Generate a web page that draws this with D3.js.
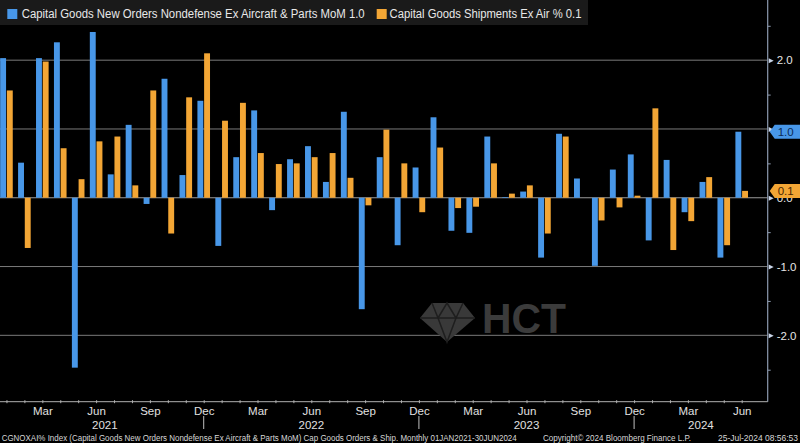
<!DOCTYPE html>
<html><head><meta charset="utf-8">
<script src="https://cdn.jsdelivr.net/npm/d3@7"></script>
<style>
html,body{margin:0;padding:0;background:#000;}
svg{display:block;font-family:"Liberation Sans","DejaVu Sans",sans-serif;}
</style></head>
<body>
<svg id="chart" width="800" height="443"></svg>
<script>
// ---------- data ----------
const months = [
 "2021-01","2021-02","2021-03","2021-04","2021-05","2021-06","2021-07","2021-08","2021-09","2021-10","2021-11","2021-12",
 "2022-01","2022-02","2022-03","2022-04","2022-05","2022-06","2022-07","2022-08","2022-09","2022-10","2022-11","2022-12",
 "2023-01","2023-02","2023-03","2023-04","2023-05","2023-06","2023-07","2023-08","2023-09","2023-10","2023-11","2023-12",
 "2024-01","2024-02","2024-03","2024-04","2024-05","2024-06"];
const ordersMoM = [
 2.03, 0.51, 2.03, 2.26,-2.47, 2.41, 0.34, 1.06,-0.09, 1.73, 0.33, 1.41,
-0.70, 0.59, 1.27,-0.18, 0.56, 0.75, 0.23, 1.25,-1.62, 0.59,-0.69, 0.44,
 1.17,-0.48,-0.51, 0.89, 0.01, 0.09,-0.87, 0.93, 0.28,-0.99, 0.41, 0.63,
-0.62, 0.55,-0.21, 0.23,-0.87, 0.96];
const shipmentsMoM = [
 1.56,-0.73, 1.98, 0.72, 0.27, 0.82, 0.89, 0.18, 1.56,-0.52, 1.46, 2.10,
 1.12, 1.38, 0.65, 0.49, 0.50, 0.59, 0.65, 0.29,-0.11, 0.99, 0.50,-0.21,
 0.73,-0.15,-0.13, 0.50, 0.06, 0.18,-0.52, 0.89, 0.00,-0.33,-0.14, 0.03,
 1.30,-0.76,-0.34, 0.30,-0.69, 0.10];
const seriesNames = ["Capital Goods New Orders Nondefense Ex Aircraft & Parts MoM",
                     "Capital Goods Shipments Ex Air %"];
const yMajorTicks = [-2, -1, 0, 1, 2];
const yMinorTicks = [-2.5, -1.5, -0.5, 0.5, 1.5, 2.5];
const monthNames = ["Jan","Feb","Mar","Apr","May","Jun","Jul","Aug","Sep","Oct","Nov","Dec"];
const labeledMonths = ["Mar","Jun","Sep","Dec"];
const footerLeft = "CGNOXAI% Index (Capital Goods New Orders Nondefense Ex Aircraft & Parts MoM) Cap Goods Orders & Ship.  Monthly 01JAN2021-30JUN2024";
const footerCopy = "Copyright\u00A9 2024 Bloomberg Finance L.P.";
const footerStamp = "25-Jul-2024 08:56:53";

// ---------- styles ----------
const BLUE = "#4897e8", ORANGE = "#f3a635";
const W = 800, H = 443;
const plot = {left: 0, right: 767.7, top: 0, bottom: 401.7};

const svg = d3.select("#chart");
svg.append("rect").attr("width", W).attr("height", H).attr("fill", "#000");

const x = d3.scaleLinear().domain([-0.36, 42.45]).range([plot.left, plot.right]);
const y = d3.scaleLinear().domain([-2.965, 2.875]).range([plot.bottom, plot.top]);
const sub = d3.scaleBand().domain([0, 1]).range([-6.3, 6.3]).paddingInner(0.12);

const data = months.map((m, i) => ({i, m, vals: [ordersMoM[i], shipmentsMoM[i]]}));

// gridlines
svg.append("g").selectAll("line").data(yMajorTicks).join("line")
  .attr("x1", plot.left).attr("x2", plot.right)
  .attr("y1", d => y(d)).attr("y2", d => y(d))
  .attr("stroke", d => d === 0 ? "#9a9a9a" : "#7a7a7a").attr("stroke-width", 1);

// watermark
const wm = svg.append("g");
wm.append("polygon").attr("points", "420,318 432,303 463,303 475,318 447,342").attr("fill", "#393939");
wm.append("polyline").attr("points", "420,318 475,318").attr("stroke", "#1e1e1e").attr("stroke-width", 1.5).attr("fill", "none");
wm.append("polyline").attr("points", "432,303 438,318 447,342 456,318 463,303").attr("stroke", "#1e1e1e").attr("stroke-width", 1.5).attr("fill", "none");
wm.append("polyline").attr("points", "438,318 447,303 456,318").attr("stroke", "#1e1e1e").attr("stroke-width", 1.5).attr("fill", "none");
wm.append("text").attr("x", 482).attr("y", 333).text("HCT")
  .attr("font-size", 43).attr("font-weight", "bold").attr("fill", "#3b3b3b")
  .attr("textLength", 84).attr("lengthAdjust", "spacingAndGlyphs");

// bars
const colors = [BLUE, ORANGE];
const groups = svg.append("g").selectAll("g").data(data).join("g")
  .attr("transform", d => `translate(${x(d.i)},0)`);
groups.selectAll("rect").data(d => d.vals.map((v, k) => ({v, k}))).join("rect")
  .attr("x", d => sub(d.k))
  .attr("width", sub.bandwidth())
  .attr("y", d => y(Math.max(0, d.v)))
  .attr("height", d => Math.abs(y(d.v) - y(0)))
  .attr("fill", d => colors[d.k]);

// right axis line
svg.append("line").attr("x1", plot.right).attr("x2", plot.right)
  .attr("y1", plot.top).attr("y2", plot.bottom).attr("stroke", "#8d9bb0").attr("stroke-width", 1.2);

// minor ticks
const minorAxis = d3.axisRight(y).tickValues(yMinorTicks).tickSize(3).tickFormat("");
svg.append("g").attr("transform", `translate(${plot.right},0)`).call(minorAxis)
  .call(g => g.select(".domain").remove())
  .call(g => g.selectAll("line").attr("stroke", "#8d9bb0"));

// value tags (last values)
const last = months.length - 1;
const tags = [
  {v: ordersMoM[last], fill: BLUE, text: "#0b2a55"},
  {v: shipmentsMoM[last], fill: ORANGE, text: "#4a2500"}
];

// major labels (labels fully hidden under a value tag are omitted)
const majorAxis = d3.axisRight(y).tickValues(yMajorTicks).tickSize(0).tickPadding(9)
  .tickFormat(d => d3.format(".1f")(d).replace("\u2212", "-"));
const ya = svg.append("g").attr("transform", `translate(${plot.right},0)`).call(majorAxis);
ya.select(".domain").remove();
ya.selectAll("text").attr("fill", "#e6e6e6").attr("font-size", 11.5)
  .filter(d => tags.some(t => Math.abs(y(t.v) - y(d)) < 5)).remove();
ya.selectAll(".tick").append("path").attr("d", "M1,-2.5L6,0L1,2.5Z").attr("fill", "#c8d4e8");

const tg = svg.append("g").selectAll("g").data(tags).join("g")
  .attr("transform", d => `translate(${plot.right + 2},${y(d.v)})`);
tg.append("path").attr("d", "M0,0L5,-7L32,-7L32,7L5,7Z").attr("fill", d => d.fill);
tg.append("text").attr("x", 8).attr("y", 4).text(d => d3.format(".1f")(d.v))
  .attr("font-size", 11.5).attr("fill", d => d.text);

// bottom axis
svg.append("line").attr("x1", plot.left).attr("x2", plot.right)
  .attr("y1", plot.bottom).attr("y2", plot.bottom).attr("stroke", "#b0b0b0").attr("stroke-width", 1);
const xAxis = d3.axisBottom(x).tickValues(d3.range(months.length)).tickSize(3)
  .tickFormat(i => {
    const mn = monthNames[+months[i].slice(5) - 1];
    return labeledMonths.includes(mn) ? mn : "";
  });
const xa = svg.append("g").attr("transform", `translate(0,${plot.bottom - 1.5})`).call(xAxis);
xa.select(".domain").remove();
xa.selectAll("line").attr("stroke", "#b0b0b0");
xa.selectAll("text").attr("y", 14.5).attr("dy", 0).attr("fill", "#e0e0e0").attr("font-size", 11.5);

// year separators and labels
const decIdx = months.map((m, i) => m.endsWith("-12") ? i : -1).filter(i => i >= 0);
svg.append("g").selectAll("line").data(decIdx).join("line")
  .attr("x1", i => x(i)).attr("x2", i => x(i))
  .attr("y1", 416).attr("y2", 429).attr("stroke", "#c0c0c0");
const years = Array.from(new Set(months.map(m => m.slice(0, 4))));
const bounds = [plot.left, ...decIdx.map(i => x(i)), plot.right];
svg.append("g").selectAll("text").data(years).join("text")
  .attr("x", (d, k) => (bounds[k] + bounds[k + 1]) / 2 + (k === 0 ? 3 : 0))
  .attr("y", 429).attr("text-anchor", "middle")
  .attr("fill", "#e0e0e0").attr("font-size", 11.5).text(d => d);

// legend
const lg = svg.append("g");
lg.append("rect").attr("x", 0).attr("y", 0).attr("width", 588).attr("height", 25).attr("fill", "#1a1a1a");
const legendItems = [
  {name: seriesNames[0] + " " + d3.format(".1f")(ordersMoM[last]), color: BLUE, sx: 7.3, tx: 21.7, tw: 343},
  {name: seriesNames[1] + " " + d3.format(".1f")(shipmentsMoM[last]), color: ORANGE, sx: 376.7, tx: 389.5, tw: 192}
];
legendItems.forEach(it => {
  lg.append("rect").attr("x", it.sx).attr("y", 9).attr("width", 10).attr("height", 10).attr("fill", it.color);
  lg.append("text").attr("x", it.tx).attr("y", 18.3).text(it.name)
    .attr("fill", "#e8e8e8").attr("font-size", 12.5)
    .attr("textLength", it.tw).attr("lengthAdjust", "spacingAndGlyphs");
});

// footer
const ft = svg.append("g").attr("fill", "#d8d8d8").attr("font-size", 8.5);
[[footerLeft, 1.7, 515], [footerCopy, 543, 148], [footerStamp, 718, 80]]
  .forEach(([t, fx, fw]) => ft.append("text").attr("x", fx).attr("y", 440.5).text(t)
    .attr("textLength", fw).attr("lengthAdjust", "spacingAndGlyphs"));
</script>
</body></html>
